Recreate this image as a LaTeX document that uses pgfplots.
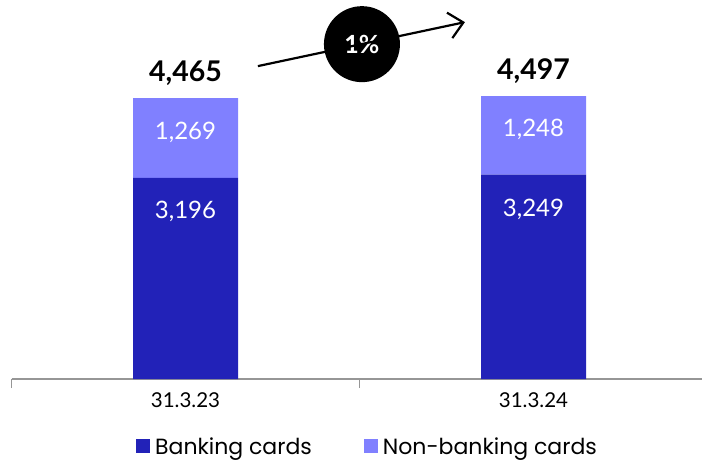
\documentclass[border=0pt]{standalone}
\usepackage{fontspec}
\setmainfont{Lato}
\newfontfamily\legfont{Poppins}
\usepackage{pgfplots}
\pgfplotsset{compat=1.18}
\usetikzlibrary{arrows.meta}
\definecolor{darkb}{RGB}{34,34,184}
\definecolor{lightb}{RGB}{128,128,255}
\definecolor{axgray}{RGB}{150,150,150}
\begin{document}
\begin{tikzpicture}
\useasboundingbox (0,0) rectangle (702pt,464pt);
\begin{axis}[
  at={(11.5pt,85pt)}, anchor=south west,
  scale only axis, width=696pt, height=379pt,
  xmin=-0.5, xmax=1.5, ymin=0, ymax=6025,
  ybar stacked, bar width=105pt,
  clip=false,
  axis y line=none,
  axis x line*=bottom,
  x axis line style={axgray, line width=1.5pt, -},
  xtick={0,1}, xticklabels={31.3.23,31.3.24},
  major tick length=0pt,
  extra x ticks={-0.5,0.5,1.5}, extra x tick labels={},
  extra x tick style={tick align=outside, major tick length=9pt, tick style={axgray, line width=1.5pt}},
  xticklabel style={font=\fontsize{20.5}{23}\selectfont, yshift=-10pt},
  /pgf/number format/.cd, 1000 sep={,}, assume math mode=true,
  /pgfplots/.cd,
  nodes near coords,
  point meta=explicit,
  every node near coord/.append style={font=\fontsize{24}{28}\selectfont, text=white, anchor=base},
  legend style={at={(0.5115,-0.179)}, anchor=center, draw=none, legend columns=2,
    font=\legfont\fontsize{22}{24}\selectfont, column sep=3pt,
    /tikz/every even column/.append style={column sep=50pt}},
  legend image code/.code={\fill[#1] (0pt,-6pt) rectangle (14pt,8pt);},
]
\addplot[fill=darkb, draw=none, every node near coord/.append style={yshift=60pt}] coordinates {(0,3196)[3196] (1,3249)[3249]};
\addplot[fill=lightb, draw=none, every node near coord/.append style={yshift=-1pt}] coordinates {(0,1269)[1269] (1,1248)[1248]};
\legend{Banking cards, Non-banking cards}
\node[anchor=base, font=\fontsize{28.5}{32}\selectfont\bfseries, yshift=17pt] at (axis cs:0,4465) {4,465};
\node[anchor=base, font=\fontsize{28.5}{32}\selectfont\bfseries, yshift=17pt] at (axis cs:1,4497) {4,497};
\draw[line width=2.2pt, -{Straight Barb[length=14pt, width=26pt, line width=2.2pt]}] (axis cs:0.208,4974) -- (axis cs:0.803,5673);
\node[circle, fill=black, minimum size=76pt, inner sep=0pt, text=white, font=\fontsize{25}{28}\selectfont\bfseries] at (axis cs:0.507,5323) {1\%};
\end{axis}
\end{tikzpicture}
\end{document}
